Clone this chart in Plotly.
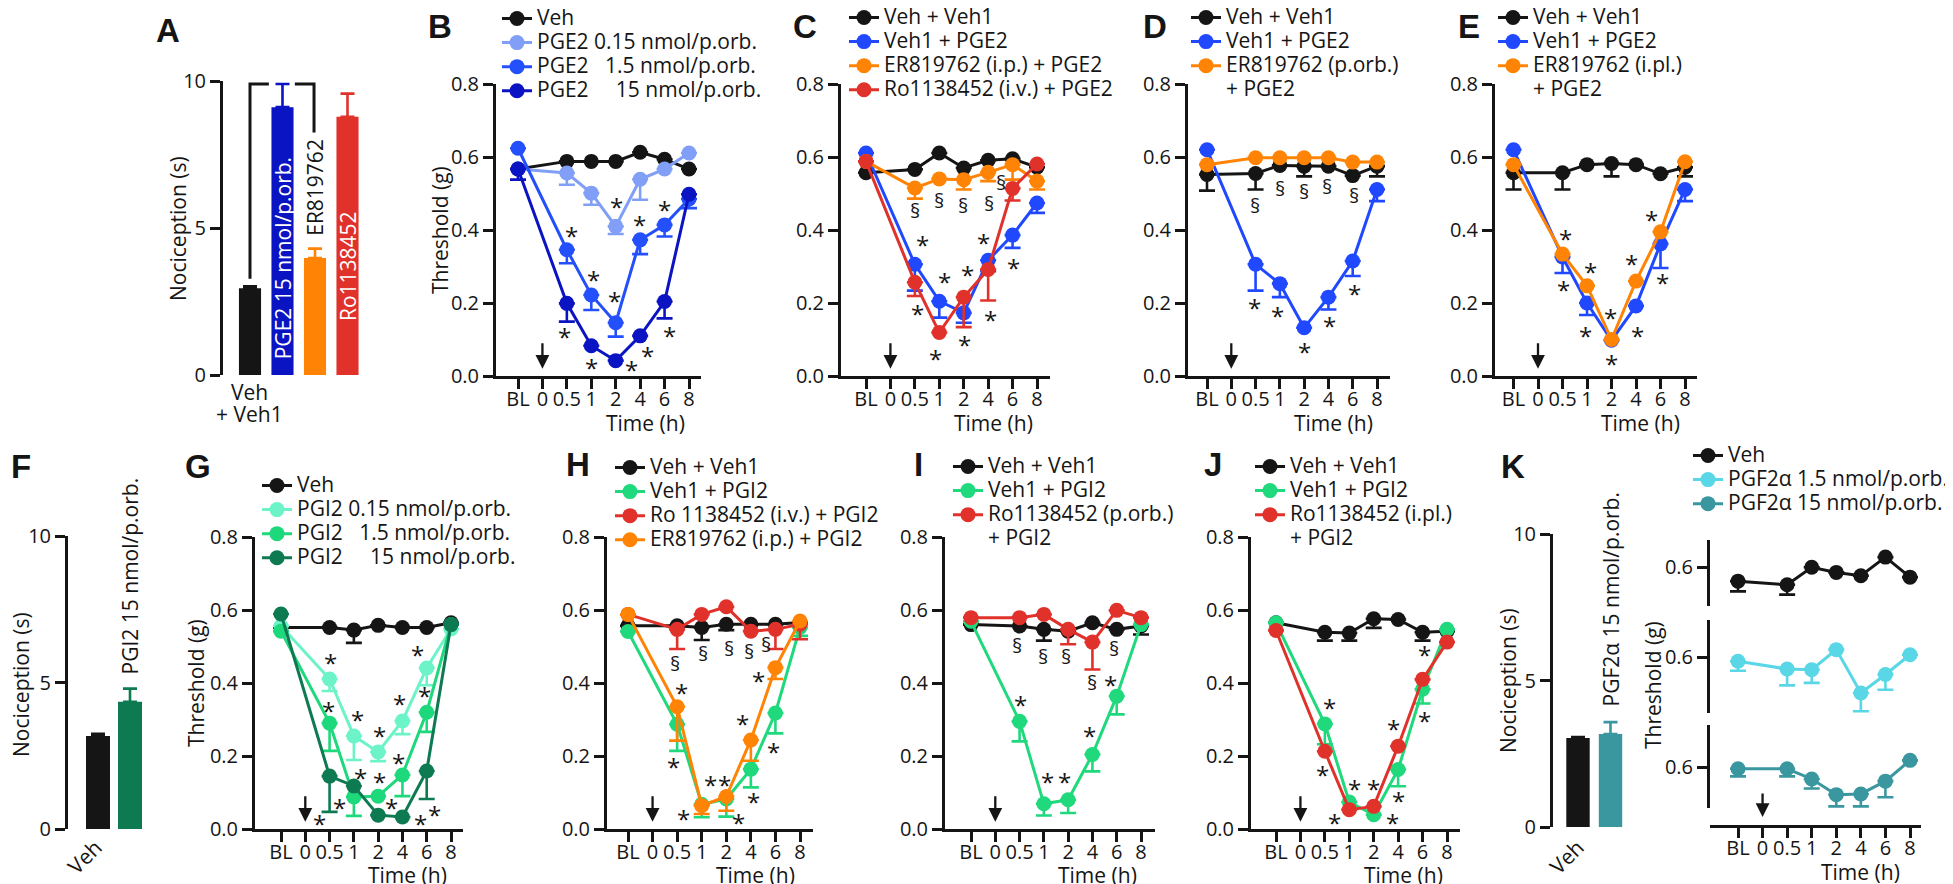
import plotly.graph_objects as go

W, H = 1953, 884
FONT = "Open Sans"
INK = "#151515"

# ---------------- data ----------------
TIME_LABELS = ["BL", "0", "0.5", "1", "2", "4", "6", "8"]
OBS_TIMES = ["BL", "0.5", "1", "2", "4", "6", "8"]

# A (nociception, s)
A_LABELS = ["Veh + Veh1", "PGE2 15 nmol/p.orb.", "ER819762", "Ro1138452"]
A_VALUES = [2.95, 9.11, 3.98, 8.78]
A_SEM = [0.07, 0.79, 0.32, 0.79]

# B
B_VEH = [0.567, 0.588, 0.588, 0.588, 0.613, 0.594, 0.567]
B_VEH_SEM = [None] * 7
B_E015 = [0.567, 0.556, 0.501, 0.410, 0.539, 0.567, 0.611]
B_E015_SEM = [None, 0.032, 0.032, 0.021, 0.056, None, None]
B_E15 = [0.624, 0.346, 0.222, 0.146, 0.373, 0.414, 0.485]
B_E15_SEM = [None, 0.037, 0.041, 0.038, 0.039, 0.032, 0.025]
B_E150 = [0.567, 0.199, 0.083, 0.042, 0.110, 0.204, 0.498]
B_E150_SEM = [0.029, 0.050, None, None, None, 0.046, None]

# C
C_VEH = [0.557, 0.566, 0.611, 0.570, 0.591, 0.595, 0.572]
C_VEH_SEM = [None] * 7
C_PGE2 = [0.611, 0.306, 0.205, 0.173, 0.317, 0.386, 0.474]
C_PGE2_SEM = [None, 0.072, 0.045, 0.027, 0.030, 0.035, 0.027]
C_ER = [0.588, 0.515, 0.540, 0.538, 0.558, 0.579, 0.534]
C_ER_SEM = [None, 0.029, None, 0.027, 0.024, 0.041, 0.023]
C_RO = [0.588, 0.257, 0.119, 0.216, 0.292, 0.514, 0.581]
C_RO_SEM = [None, 0.038, None, 0.082, 0.085, 0.033, None]

# D
D_VEH = [0.552, 0.555, 0.577, 0.575, 0.575, 0.549, 0.575]
D_VEH_SEM = [0.044, 0.044, None, 0.028, None, None, 0.028]
D_PGE2 = [0.620, 0.306, 0.253, 0.132, 0.216, 0.315, 0.511]
D_PGE2_SEM = [None, 0.072, 0.037, None, 0.034, 0.041, 0.032]
D_ER = [0.579, 0.598, 0.598, 0.598, 0.598, 0.586, 0.586]
D_ER_SEM = [None] * 7

# E
E_VEH = [0.557, 0.557, 0.579, 0.582, 0.579, 0.554, 0.572]
E_VEH_SEM = [0.046, 0.046, None, 0.035, None, None, 0.025]
E_PGE2 = [0.620, 0.326, 0.200, 0.098, 0.192, 0.362, 0.511]
E_PGE2_SEM = [None, 0.044, 0.033, None, None, 0.066, 0.032]
E_ER = [0.579, 0.334, 0.247, 0.100, 0.260, 0.395, 0.587]
E_ER_SEM = [None] * 7

# F (nociception, s)
F_LABELS = ["Veh", "PGI2 15 nmol/p.orb."]
F_VALUES = [3.17, 4.34]
F_SEM = [0.08, 0.45]

# G
G_VEH = [0.552, 0.552, 0.545, 0.558, 0.552, 0.552, 0.565]
G_VEH_SEM = [None, None, 0.035, None, None, None, None]
G_I015 = [0.556, 0.411, 0.255, 0.211, 0.296, 0.441, 0.548]
G_I015_SEM = [None, 0.033, 0.066, 0.025, 0.036, 0.047, None]
G_I15 = [0.542, 0.290, 0.088, 0.090, 0.148, 0.320, 0.560]
G_I15_SEM = [None, 0.076, 0.052, None, 0.058, 0.054, None]
G_I150 = [0.589, 0.145, 0.118, 0.038, 0.033, 0.159, 0.560]
G_I150_SEM = [None, 0.098, None, None, None, 0.077, None]

# H
H_VEH = [0.557, 0.557, 0.552, 0.561, 0.561, 0.561, 0.566]
H_VEH_SEM = [None, None, 0.034, 0.016, None, None, None]
H_PGI2 = [0.541, 0.287, 0.068, 0.082, 0.164, 0.318, 0.552]
H_PGI2_SEM = [None, 0.073, 0.036, 0.048, 0.050, 0.056, 0.023]
H_RO = [0.588, 0.547, 0.588, 0.609, 0.542, 0.547, 0.561]
H_RO_SEM = [None, 0.054, None, None, None, 0.054, 0.041]
H_ER = [0.588, 0.335, 0.064, 0.089, 0.244, 0.442, 0.570]
H_ER_SEM = [None, 0.093, 0.023, 0.039, 0.057, 0.031, None]

# I
I_VEH = [0.560, 0.556, 0.547, 0.542, 0.565, 0.547, 0.556]
I_VEH_SEM = [None, None, 0.031, None, None, None, 0.023]
I_PGI2 = [0.569, 0.295, 0.069, 0.080, 0.204, 0.364, 0.560]
I_PGI2_SEM = [None, 0.055, 0.032, 0.036, 0.046, 0.050, None]
I_RO = [0.579, 0.579, 0.588, 0.547, 0.512, 0.599, 0.579]
I_RO_SEM = [None, None, None, 0.041, 0.075, None, None]

# J
J_VEH = [0.565, 0.539, 0.537, 0.576, 0.574, 0.539, 0.542]
J_VEH_SEM = [None, 0.023, 0.021, 0.025, None, 0.023, None]
J_PGI2 = [0.565, 0.288, 0.074, 0.039, 0.163, 0.383, 0.547]
J_PGI2_SEM = [None, 0.056, None, None, 0.046, 0.039, None]
J_RO = [0.544, 0.213, 0.053, 0.062, 0.227, 0.410, 0.512]
J_RO_SEM = [None] * 7

# K bars (nociception, s)
K_LABELS = ["Veh", "PGF2α 15 nmol/p.orb."]
K_VALUES = [3.04, 3.17]
K_SEM = [0.03, 0.41]

# K time courses
K_VEH = [0.562, 0.552, 0.600, 0.586, 0.577, 0.628, 0.573]
K_VEH_SEM = [0.028, 0.027, None, None, None, None, None]
K_F15 = [0.589, 0.568, 0.566, 0.621, 0.502, 0.553, 0.607]
K_F15_SEM = [0.026, 0.045, 0.036, None, 0.050, 0.042, None]
K_F150 = [0.596, 0.596, 0.568, 0.525, 0.527, 0.562, 0.619]
K_F150_SEM = [0.021, 0.021, 0.026, 0.032, 0.034, 0.044, None]

# significance marks: (symbol, time position, threshold)
B_MARKS = [("*", 2.17, 0.397), ("*", 3.11, 0.274), ("*", 3.93, 0.219), ("*", 4.02, 0.474),
           ("*", 4.96, 0.425), ("*", 5.98, 0.468), ("*", 1.89, 0.118), ("*", 2.99, 0.033),
           ("*", 4.63, 0.030), ("*", 5.29, 0.068), ("*", 6.19, 0.123)]
C_MARKS = [("§", 2.01, 0.447), ("§", 2.99, 0.474), ("§", 3.98, 0.463), ("§", 5.04, 0.468),
           ("§", 5.53, 0.526), ("*", 2.30, 0.370), ("*", 3.20, 0.271), ("*", 4.14, 0.288),
           ("*", 4.80, 0.378), ("*", 6.02, 0.307), ("*", 2.09, 0.181), ("*", 2.83, 0.058),
           ("*", 4.02, 0.096), ("*", 5.08, 0.167)]
D_MARKS = [("§", 1.97, 0.463), ("§", 2.99, 0.507), ("§", 3.98, 0.501), ("§", 4.96, 0.515),
           ("§", 6.07, 0.488), ("*", 1.97, 0.200), ("*", 2.91, 0.178), ("*", 4.02, 0.077),
           ("*", 5.04, 0.148), ("*", 6.07, 0.238)]
E_MARKS = [("*", 2.11, 0.389), ("*", 2.03, 0.247), ("*", 3.14, 0.296), ("*", 2.93, 0.123),
           ("*", 3.96, 0.170), ("*", 4.00, 0.044), ("*", 4.82, 0.318), ("*", 5.06, 0.123),
           ("*", 5.64, 0.441), ("*", 6.09, 0.266)]
G_MARKS = [("*", 2.05, 0.466), ("*", 1.97, 0.337), ("*", 3.16, 0.310), ("*", 4.06, 0.266),
           ("*", 4.88, 0.356), ("*", 5.63, 0.488), ("*", 5.92, 0.378), ("*", 4.84, 0.192),
           ("*", 3.28, 0.153), ("*", 4.06, 0.142), ("*", 2.42, 0.071), ("*", 4.55, 0.071),
           ("*", 1.60, 0.025), ("*", 5.74, 0.027), ("*", 6.31, 0.052)]
H_MARKS = [("§", 1.93, 0.447), ("§", 3.07, 0.474), ("§", 4.10, 0.488), ("§", 4.92, 0.482),
           ("§", 5.61, 0.501), ("*", 2.17, 0.386), ("*", 1.84, 0.181), ("*", 2.25, 0.040),
           ("*", 3.36, 0.133), ("*", 3.93, 0.134), ("*", 4.51, 0.030), ("*", 4.67, 0.299),
           ("*", 5.12, 0.085), ("*", 5.33, 0.419), ("*", 5.94, 0.222)]
I_MARKS = [("§", 1.89, 0.496), ("§", 2.95, 0.466), ("§", 3.93, 0.466), ("§", 5.00, 0.395),
           ("§", 5.90, 0.490), ("*", 2.05, 0.351), ("*", 3.16, 0.142), ("*", 3.85, 0.142),
           ("*", 4.88, 0.266), ("*", 5.74, 0.408)]
J_MARKS = [("*", 2.17, 0.345), ("*", 1.89, 0.159), ("*", 2.38, 0.030), ("*", 3.20, 0.121),
           ("*", 3.98, 0.123), ("*", 4.75, 0.030), ("*", 4.80, 0.285), ("*", 5.00, 0.090),
           ("*", 6.07, 0.488), ("*", 6.07, 0.307)]

# ---------------- styles ----------------
BLACK = "#151515"
BLUE_L = "#819ff6"
BLUE_M = "#2450fb"
BLUE_D = "#0b14c2"
BLUE = "#1f48ff"
ORANGE = "#ff8405"
RED = "#e0322b"
GREEN_L = "#6cf3c8"
GREEN_M = "#1ed87c"
GREEN_D = "#0d7a52"
GREEN = "#1fd97c"
CYAN = "#59d7e6"
TEAL = "#3a979f"

AXIS = dict(showline=True, linewidth=3, linecolor=INK, ticks="outside", ticklen=10,
            tickwidth=3, tickcolor=INK, showgrid=False, zeroline=False,
            tickfont=dict(size=20, family=FONT, color=INK), fixedrange=True)


def px_x(p):
    return p / W


def px_y(p):
    return 1 - p / H


def keys(n):
    if n == 1:
        return "xaxis", "yaxis", "x", "y"
    return f"xaxis{n}", f"yaxis{n}", f"x{n}", f"y{n}"


fig = go.Figure()
layout = {}
annotations = []
shapes = []

XIDX = [TIME_LABELS.index(t) for t in OBS_TIMES]


def span(t):
    return f'<span style="font-size:21px">{t}</span>'


def add_series(name, vals, sem, color, xr, yr, leg):
    up = [0 if s is not None else None for s in sem]
    fig.add_trace(go.Scatter(
        x=XIDX, y=vals, mode="lines+markers", name=span(name),
        line=dict(color=color, width=3), marker=dict(size=15, color=color),
        error_y=dict(type="data", symmetric=False, array=up, arrayminus=sem,
                     color=color, thickness=2.6, width=8),
        xaxis=xr, yaxis=yr, legend=leg, showlegend=True, hoverinfo="skip"))


def add_legend_text(name, xr, yr, leg):
    fig.add_trace(go.Scatter(
        x=[None], y=[None], mode="lines", name=span(name),
        line=dict(color="rgba(0,0,0,0)", width=1),
        xaxis=xr, yaxis=yr, legend=leg, showlegend=True, hoverinfo="skip"))


def legend_box(leg, sym_left, row1):
    layout[leg] = dict(x=px_x(sym_left - 5), y=px_y(row1 - 21.5), xanchor="left", yanchor="top",
                       font=dict(size=16.2, family=FONT, color=INK), bgcolor="rgba(0,0,0,0)",
                       borderwidth=0, tracegroupgap=0, itemwidth=30, traceorder="normal")


def text(x, y, t, size=21, angle=0, xref="paper", yref="paper", color=INK,
         xanchor="center", yanchor="middle", **kw):
    annotations.append(dict(x=x, y=y, xref=xref, yref=yref, text=t, showarrow=False,
                            textangle=angle, xanchor=xanchor, yanchor=yanchor,
                            font=dict(size=size, family=FONT, color=color), **kw))


def time_xaxis(**extra):
    d = dict(tickmode="array", tickvals=list(range(8)), ticktext=TIME_LABELS, tickangle=0,
             ticklabelstandoff=-7, **AXIS)
    d.update(extra)
    return d


def time_panel(n, geom, series, leg, sym_left, row1, marks, extra=None, time_y=415):
    x0, bl, x8, xe, ytop, ybot = geom
    s = (x8 - bl) / 7
    xa, ya, xr, yr = keys(n)
    layout[xa] = time_xaxis(domain=[px_x(x0), px_x(xe)],
                            range=[-(bl - x0) / s, 7 + (xe - x8) / s], anchor=yr)
    layout[ya] = dict(domain=[px_y(ybot), px_y(ytop)], range=[0, 0.8], anchor=xr,
                      tickmode="array", tickvals=[0, 0.2, 0.4, 0.6, 0.8],
                      ticktext=["0.0", "0.2", "0.4", "0.6", "0.8"], **AXIS)
    for name, vals, sem, color in series:
        add_series(name, vals, sem, color, xr, yr, leg)
    if extra:
        add_legend_text(extra, xr, yr, leg)
    legend_box(leg, sym_left, row1)
    for sym, xv, yv in marks:
        text(xv, yv, sym, size=24 if sym == "*" else 20, xref=xr, yref=yr,
             yshift=-4 if sym == "*" else 2)
    annotations.append(dict(x=1, y=0.02, xref=xr, yref=yr, text="", showarrow=True,
                            ax=0, ay=-27, arrowhead=2, arrowsize=1.2, arrowwidth=2.3,
                            arrowcolor=INK))
    text(5.2, px_y(time_y), "Time (h)", xref=xr)


def bar_panel(n, x0, c0, spacing, xe, ytop, ybot, values, sems, colors, widthfrac):
    xa, ya, xr, yr = keys(n)
    layout[xa] = dict(domain=[px_x(x0), px_x(xe)],
                      range=[-(c0 - x0) / spacing, (xe - c0) / spacing], anchor=yr,
                      showline=False, showticklabels=False, ticks="", showgrid=False,
                      zeroline=False, fixedrange=True)
    layout[ya] = dict(domain=[px_y(ybot), px_y(ytop)], range=[0, 10], anchor=xr,
                      tickmode="array", tickvals=[0, 5, 10], **AXIS)
    for i, (v, s, c) in enumerate(zip(values, sems, colors)):
        fig.add_trace(go.Bar(x=[i], y=[v], width=widthfrac, marker=dict(color=c, line=dict(width=0)),
                             error_y=dict(type="data", symmetric=False, array=[s], arrayminus=[0],
                                          color=c, thickness=2.6, width=7),
                             xaxis=xr, yaxis=yr, showlegend=False, hoverinfo="skip"))


# ---------------- A ----------------
bar_panel(1, 215, 242, 32.5, 360, 73, 367, A_VALUES, A_SEM, [BLACK, BLUE_D, ORANGE, RED], 0.68)
text(1, 0.45, A_LABELS[1], angle=-90, xref="x", yref="y", color="white", yanchor="bottom")
text(2, A_VALUES[2] + A_SEM[2] + 0.35, A_LABELS[2], angle=-90, xref="x", yref="y", yanchor="bottom")
text(3, 1.75, A_LABELS[3], angle=-90, xref="x", yref="y", color="white", yanchor="bottom")
text(px_x(241), px_y(384), "Veh")
text(px_x(241), px_y(406), "+ Veh1")
text(px_x(170), px_y(221), "Nociception (s)", angle=-90)
top = A_VALUES[1] + A_SEM[1]
shapes.append(dict(type="path", xref="x", yref="y",
                   path=f"M 0,{A_VALUES[0] + A_SEM[0] + 0.25} L 0,{top} L 0.58,{top}",
                   line=dict(color=INK, width=3)))
shapes.append(dict(type="path", xref="x", yref="y",
                   path=f"M 1.38,{top} L 1.97,{top} L 1.97,{A_VALUES[2] + A_SEM[2] + 3.95}",
                   line=dict(color=INK, width=3)))
text(0.34, top + 0.5, "*", xref="x", yref="y", size=24, yshift=-4)
text(1.75, top + 0.55, "§", xref="x", yref="y", size=20, yshift=2)

# ---------------- B..E ----------------
time_panel(2, (488, 510, 681, 693, 76, 368),
           [("Veh", B_VEH, B_VEH_SEM, BLACK),
            ("PGE2 0.15 nmol/p.orb.", B_E015, B_E015_SEM, BLUE_L),
            ("PGE2\u00a0\u00a0\u00a01.5 nmol/p.orb.", B_E15, B_E15_SEM, BLUE_M),
            ("PGE2\u00a0\u00a0\u00a0\u00a0\u00a015 nmol/p.orb.", B_E150, B_E150_SEM, BLUE_D)],
           "legend", 494, 15, B_MARKS)
text(px_x(432), px_y(222), "Threshold (g)", angle=-90)

time_panel(3, (833, 858, 1029, 1042, 76, 368),
           [("Veh + Veh1", C_VEH, C_VEH_SEM, BLACK),
            ("Veh1 + PGE2", C_PGE2, C_PGE2_SEM, BLUE),
            ("ER819762 (i.p.) + PGE2", C_ER, C_ER_SEM, ORANGE),
            ("Ro1138452 (i.v.) + PGE2", C_RO, C_RO_SEM, RED)],
           "legend2", 841, 14, C_MARKS)

time_panel(4, (1180, 1199, 1369, 1382, 76, 368),
           [("Veh + Veh1", D_VEH, D_VEH_SEM, BLACK),
            ("Veh1 + PGE2", D_PGE2, D_PGE2_SEM, BLUE),
            ("ER819762 (p.orb.)", D_ER, D_ER_SEM, ORANGE)],
           "legend3", 1183, 14, D_MARKS, extra="+ PGE2")

time_panel(5, (1487, 1505.5, 1677, 1689, 76, 368),
           [("Veh + Veh1", E_VEH, E_VEH_SEM, BLACK),
            ("Veh1 + PGE2", E_PGE2, E_PGE2_SEM, BLUE),
            ("ER819762 (i.pl.)", E_ER, E_ER_SEM, ORANGE)],
           "legend4", 1490, 14, E_MARKS, extra="+ PGE2")

# ---------------- F ----------------
bar_panel(6, 60, 90, 32, 145, 528, 821, F_VALUES, F_SEM, [BLACK, GREEN_D], 0.75)
text(1, F_VALUES[1] + F_SEM[1] + 0.4, F_LABELS[1], angle=-90, xref="x6", yref="y6", yanchor="bottom")
text(0, 0, F_LABELS[0], angle=-45, xref="x6", yref="y6", xanchor="right", yanchor="top",
     xshift=12, yshift=-2)
text(px_x(13), px_y(677), "Nociception (s)", angle=-90)

# ---------------- G..J ----------------
time_panel(7, (247, 273, 443, 455, 529, 821),
           [("Veh", G_VEH, G_VEH_SEM, BLACK),
            ("PGI2 0.15 nmol/p.orb.", G_I015, G_I015_SEM, GREEN_L),
            ("PGI2\u00a0\u00a0\u00a01.5 nmol/p.orb.", G_I15, G_I15_SEM, GREEN_M),
            ("PGI2\u00a0\u00a0\u00a0\u00a0\u00a015 nmol/p.orb.", G_I150, G_I150_SEM, GREEN_D)],
           "legend5", 254, 482, G_MARKS, time_y=867)
text(px_x(188), px_y(675), "Threshold (g)", angle=-90)

time_panel(8, (599, 620, 792, 805, 529, 821),
           [("Veh + Veh1", H_VEH, H_VEH_SEM, BLACK),
            ("Veh1 + PGI2", H_PGI2, H_PGI2_SEM, GREEN),
            ("Ro 1138452 (i.v.) + PGI2", H_RO, H_RO_SEM, RED),
            ("ER819762 (i.p.) + PGI2", H_ER, H_ER_SEM, ORANGE)],
           "legend6", 607, 464, H_MARKS, time_y=867)

time_panel(9, (937, 963, 1133, 1147, 529, 821),
           [("Veh + Veh1", I_VEH, I_VEH_SEM, BLACK),
            ("Veh1 + PGI2", I_PGI2, I_PGI2_SEM, GREEN),
            ("Ro1138452 (p.orb.)", I_RO, I_RO_SEM, RED)],
           "legend7", 945, 463, I_MARKS, extra="+ PGI2", time_y=867)

time_panel(10, (1243, 1268, 1439, 1452, 529, 821),
           [("Veh + Veh1", J_VEH, J_VEH_SEM, BLACK),
            ("Veh1 + PGI2", J_PGI2, J_PGI2_SEM, GREEN),
            ("Ro1138452 (i.pl.)", J_RO, J_RO_SEM, RED)],
           "legend8", 1247, 463, J_MARKS, extra="+ PGI2", time_y=867)

# ---------------- K bars ----------------
bar_panel(11, 1545, 1570, 32.5, 1625, 526, 819, K_VALUES, K_SEM, [BLACK, TEAL], 0.72)
text(1, K_VALUES[1] + K_SEM[1] + 0.45, K_LABELS[1], angle=-90, xref="x11", yref="y11", yanchor="bottom")
text(0, 0, K_LABELS[0], angle=-45, xref="x11", yref="y11", xanchor="right", yanchor="top",
     xshift=14, yshift=-4)
text(px_x(1500), px_y(673), "Nociception (s)", angle=-90)

# ---------------- K time courses ----------------
kx0, kbl, kx8, kxe = 1702, 1730, 1902, 1913
ks = (kx8 - kbl) / 7
layout["xaxis12"] = time_xaxis(domain=[px_x(kx0), px_x(kxe)],
                               range=[-(kbl - kx0) / ks, 7 + (kxe - kx8) / ks],
                               anchor="free", position=px_y(818))
K_ROWS = [(12, 532, 598, 559.3, "Veh", K_VEH, K_VEH_SEM, BLACK),
          (13, 612, 705, 649.3, "PGF2α 1.5 nmol/p.orb.", K_F15, K_F15_SEM, CYAN),
          (14, 717, 800, 759.3, "PGF2α 15 nmol/p.orb.", K_F150, K_F150_SEM, TEAL)]
for n, yt, yb, y06, name, vals, sem, col in K_ROWS:
    layout[f"yaxis{n}"] = dict(domain=[px_y(yb), px_y(yt)],
                               range=[0.6 - (yb - y06) / 365, 0.6 + (y06 - yt) / 365],
                               anchor="x12", tickmode="array", tickvals=[0.6], ticktext=["0.6"], **AXIS)
    add_series(name, vals, sem, col, "x12", f"y{n}", "legend9")
legend_box("legend9", 1685, 452)
annotations.append(dict(x=1, y=px_y(809), xref="x12", yref="paper", text="", showarrow=True,
                        ax=0, ay=-25, arrowhead=2, arrowsize=1.2, arrowwidth=2.3, arrowcolor=INK))
text(5.0, px_y(864), "Time (h)", xref="x12")
text(px_x(1645), px_y(677), "Threshold (g)", angle=-90)

# ---------------- panel letters ----------------
for lab, lx, ly in [("A", 148, 9), ("B", 420, 5), ("C", 785, 5), ("D", 1135, 5), ("E", 1450, 5),
                    ("F", 3, 445), ("G", 177, 445), ("H", 558, 443), ("I", 906, 443),
                    ("J", 1196, 443), ("K", 1493, 445)]:
    annotations.append(dict(x=px_x(lx - 2), y=px_y(ly - 7), xref="paper", yref="paper",
                            text=f"<b>{lab}</b>", showarrow=False, xanchor="left", yanchor="top",
                            font=dict(size=33, family="Liberation Sans", color=INK)))

fig.update_layout(**layout)
fig.update_layout(width=W, height=H, margin=dict(l=0, r=0, t=0, b=0, autoexpand=False),
                  paper_bgcolor="white", plot_bgcolor="rgba(0,0,0,0)", barmode="overlay",
                  hovermode=False, font=dict(family=FONT, color=INK),
                  annotations=annotations, shapes=shapes)
fig.write_html("out.html")
